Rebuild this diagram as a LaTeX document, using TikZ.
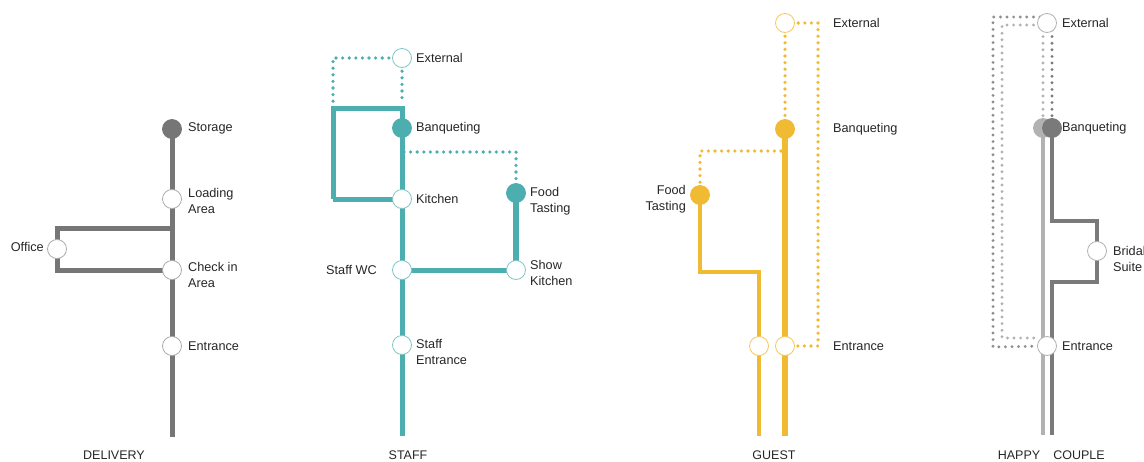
\documentclass[tikz,border=0pt]{standalone}
\usepackage{fontspec}
\setmainfont{Liberation Sans}
\pgfdeclarelayer{bg}
\pgfsetlayers{bg,main}
\definecolor{cdel}{HTML}{767676}
\definecolor{cteal}{HTML}{4DAEAF}
\definecolor{cyel}{HTML}{F0BB33}
\definecolor{clgr}{HTML}{B2B2B2}
\definecolor{cdgr}{HTML}{7A7A7A}
\definecolor{ctxt}{HTML}{262626}
\tikzset{
  stn/.style={circle, minimum size=19pt, inner sep=0pt, line width=0.8pt},
  openstn/.style={stn, fill=white, draw=#1},
  fullstn/.style={stn, fill=#1, draw=#1},
  lbl/.style={font=\fontsize{12.7}{15.7}\selectfont, text=ctxt, anchor=west, align=left, inner sep=0pt},
  lblr/.style={lbl, anchor=east, align=right},
  captxt/.style={font=\fontsize{12.5}{14}\selectfont, text=ctxt, inner sep=0pt},
  route/.style={line width=5pt, draw=#1},
  dots/.style={line width=3.6pt, dash pattern=on 0pt off 6.6pt, line cap=round, draw=#1},
}
\begin{document}
\begin{tikzpicture}[x=1pt, y=-1pt]
\useasboundingbox (0,0) rectangle (1144,461);

% ---------------- DELIVERY ----------------
\node[fullstn=cdel] (d-sto) at (172,129) {};
\node[openstn=cdel!60] (d-load) at (172,199) {};
\node[openstn=cdel!60] (d-off) at (57,249) {};
\node[openstn=cdel!60] (d-chk) at (172,270) {};
\node[openstn=cdel!60] (d-ent) at (172,346) {};
\coordinate (d-bot) at (172,437);
\coordinate (d-j1) at (172,228);
\coordinate (d-c1) at (57,228);
\coordinate (d-c2) at (57,270);
\begin{pgfonlayer}{bg}
\draw[route=cdel] (d-sto.center) -- (d-bot);
\draw[route=cdel, line join=miter] (d-j1) -- (d-c1) -- (d-off.center) -- (d-c2) -- (d-chk.center);
\end{pgfonlayer}
\node[lbl] at (188,128) {Storage};
\node[lbl] at (188,201) {Loading\\Area};
\node[lbl] at (188,275) {Check in\\Area};
\node[lbl] at (188,346) {Entrance};
\node[lblr] at (44,247) {Office};
\node[captxt] at (114,455) {DELIVERY};

% ---------------- STAFF ----------------
\node[openstn=cteal!70] (s-ext) at (402,58) {};
\node[fullstn=cteal] (s-banq) at (402,128) {};
\node[openstn=cteal!70] (s-kit) at (402,199) {};
\node[fullstn=cteal] (s-ft) at (516,193) {};
\node[openstn=cteal!70] (s-wc) at (402,270) {};
\node[openstn=cteal!70] (s-show) at (516,270) {};
\node[openstn=cteal!70] (s-sent) at (402,345) {};
\coordinate (s-top) at (402,108);
\coordinate (s-tl) at (333,108);
\coordinate (s-bl) at (333,199);
\coordinate (s-bot) at (402,436);
\coordinate (s-e1) at (333,58);
\coordinate (s-e2) at (333,102);
\coordinate (s-e3) at (402,102);
\coordinate (s-d1) at (404,152);
\coordinate (s-d2) at (516,152);
\begin{pgfonlayer}{bg}
\draw[dots=cteal] (s-ext.center) -- (s-e1) -- (s-e2);
\draw[dots=cteal] (s-ext.center) -- (s-e3);
\draw[dots=cteal] (s-d1) -- (s-d2) -- (s-ft.center);
\draw[route=cteal, line join=miter] (s-bl) -- (s-kit.center);
\draw[route=cteal, line join=miter] (s-bot) -- (s-top) -- (s-tl) -- (s-bl);
\draw[route=cteal] (s-wc.center) -- (s-show.center);
\draw[route=cteal, line width=5.5pt] (s-ft.center) -- (s-show.center);
\end{pgfonlayer}
\node[lbl] at (416,58) {External};
\node[lbl] at (416,128) {Banqueting};
\node[lbl] at (416,199) {Kitchen};
\node[lbl] at (530,201) {Food\\Tasting};
\node[lbl] at (530,273) {Show\\Kitchen};
\node[lbl] at (416,352) {Staff\\Entrance};
\node[lblr] at (377,270) {Staff WC};
\node[captxt] at (408,455) {STAFF};

% ---------------- GUEST ----------------
\node[openstn=cyel!80] (g-ext) at (785,23) {};
\node[fullstn=cyel] (g-banq) at (785,129) {};
\node[fullstn=cyel] (g-ft) at (700,195) {};
\node[openstn=cyel!80] (g-ent2) at (759,346) {};
\node[openstn=cyel!80] (g-ent) at (785,346) {};
\coordinate (g-r1) at (818,23);
\coordinate (g-r2) at (818,346);
\coordinate (g-b1) at (781,151);
\coordinate (g-b2) at (700,151);
\coordinate (g-f1) at (700,272);
\coordinate (g-f2) at (759,272);
\coordinate (g-bot) at (785,436);
\coordinate (g-bot2) at (759,436);
\begin{pgfonlayer}{bg}
\draw[dots=cyel] (g-ext.center) -- (g-r1) -- (g-r2) -- (g-ent.center);
\draw[dots=cyel] (g-ext.center) -- (g-banq.center);
\draw[dots=cyel] (g-b1) -- (g-b2) -- (g-ft.center);
\draw[route=cyel, line width=6pt] (g-banq.center) -- (g-ent.center) -- (g-bot);
\draw[route=cyel, line width=4.5pt, line join=miter] (g-ft.center) -- (g-f1) -- (g-f2) -- (g-ent2.center) -- (g-bot2);
\end{pgfonlayer}
\node[lbl] at (833,23) {External};
\node[lbl] at (833,129) {Banqueting};
\node[lbl] at (833,346) {Entrance};
\node[lblr] at (686,199) {Food\\Tasting};
\node[captxt] at (774,455) {GUEST};

% ---------------- HAPPY COUPLE ----------------
\node[fullstn=clgr] (h-bl) at (1043,128) {};
\node[fullstn=cdgr] (h-bd) at (1052,128) {};
\node[openstn=clgr] (h-ext) at (1047,23) {};
\node[openstn=clgr] (h-bs) at (1097,251) {};
\node[openstn=clgr] (h-ent) at (1047,346) {};
\coordinate (h-o0) at (1040,17);
\coordinate (h-o1) at (993,17);
\coordinate (h-o2) at (993,347);
\coordinate (h-i0) at (1040,25);
\coordinate (h-i1) at (1002,25);
\coordinate (h-i2) at (1002,338);
\coordinate (h-i3) at (1040,338);
\coordinate (h-lt) at (1043,30);
\coordinate (h-dt) at (1052,30);
\coordinate (h-d1) at (1052,221);
\coordinate (h-d2) at (1097,221);
\coordinate (h-d3) at (1097,282);
\coordinate (h-d4) at (1052,282);
\coordinate (h-lbot) at (1043,435);
\coordinate (h-dbot) at (1052,435);
\begin{pgfonlayer}{bg}
\draw[dots=cdgr!85, line width=3.2pt] (h-o0) -- (h-o1) -- (h-o2) -- (h-ent.center);
\draw[dots=clgr, line width=3.2pt] (h-i0) -- (h-i1) -- (h-i2) -- (h-i3);
\draw[dots=clgr, line width=3.2pt] (h-lt) -- (h-bl.center);
\draw[dots=cdgr, line width=3.2pt] (h-dt) -- (h-bd.center);
\draw[route=clgr, line width=4.5pt] (h-bl.center) -- (h-lbot);
\draw[route=cdgr, line width=4.5pt, line join=miter] (h-bd.center) -- (h-d1) -- (h-d2) -- (h-bs.center) -- (h-d3) -- (h-d4) -- (h-dbot);
\end{pgfonlayer}
\node[lbl] at (1062,23) {External};
\node[lbl] at (1062,128) {Banqueting};
\node[lbl] at (1113,259) {Bridal\\Suite};
\node[lbl] at (1062,346) {Entrance};
\node[captxt] at (1019,455) {HAPPY};
\node[captxt] at (1079,455) {COUPLE};
\end{tikzpicture}
\end{document}
